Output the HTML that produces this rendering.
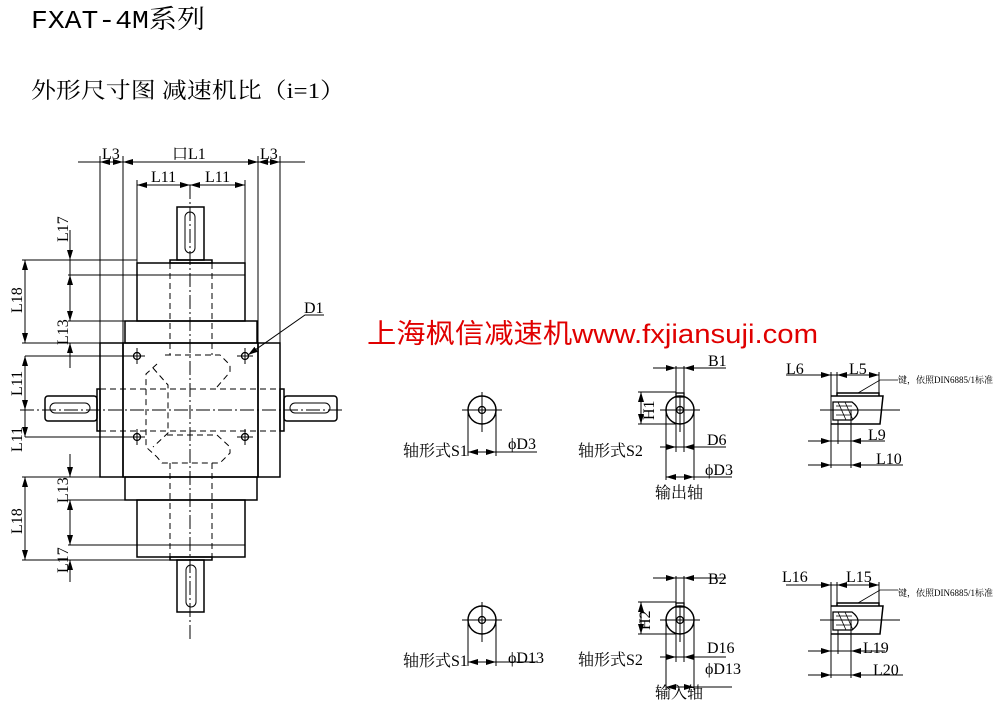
<!DOCTYPE html>
<html><head><meta charset="utf-8"><style>
html,body{margin:0;padding:0;background:#fff;}
svg{display:block}
text{font-family:"Liberation Serif","Noto Serif CJK SC",serif;fill:#000}
.m{font-family:"Liberation Mono","Noto Serif CJK SC",monospace}
</style></head><body>
<svg width="995" height="708" viewBox="0 0 995 708" xmlns="http://www.w3.org/2000/svg">
<defs>
<marker id="a" markerWidth="10" markerHeight="6" refX="10" refY="3" orient="auto-start-reverse" markerUnits="userSpaceOnUse"><path d="M0,0 L10,3 L0,6z" fill="#000"/></marker>
</defs>
<text x="31" y="28" class="m" font-size="26" textLength="174" lengthAdjust="spacingAndGlyphs">FXAT-4M系列</text>
<text x="31" y="98" font-size="22" font-family="Noto Serif CJK SC,serif" textLength="314" lengthAdjust="spacingAndGlyphs">外形尺寸图 减速机比（i=1）</text>
<text x="367" y="343" font-size="27" style="fill:#e00000;font-family:'Noto Sans CJK SC',sans-serif" textLength="451" lengthAdjust="spacingAndGlyphs">上海枫信减速机<tspan style="font-family:'Liberation Sans',sans-serif">www.fxjiansuji.com</tspan></text>

<g stroke="#000" fill="none" stroke-width="1">
<line x1="78" y1="162" x2="305" y2="162"/>
<line x1="100" y1="162" x2="123" y2="162" marker-start="url(#a)" marker-end="url(#a)"/>
<line x1="123" y1="162" x2="258" y2="162" marker-start="url(#a)" marker-end="url(#a)"/>
<line x1="258" y1="162" x2="280" y2="162" marker-start="url(#a)" marker-end="url(#a)"/>
<line x1="100" y1="156" x2="100" y2="343"/><line x1="123" y1="156" x2="123" y2="343"/>
<line x1="258" y1="156" x2="258" y2="343"/><line x1="280" y1="156" x2="280" y2="343"/>
<line x1="137" y1="185" x2="190" y2="185" marker-start="url(#a)" marker-end="url(#a)"/>
<line x1="190" y1="185" x2="245" y2="185" marker-start="url(#a)" marker-end="url(#a)"/>
<line x1="137" y1="180" x2="137" y2="263"/><line x1="245" y1="180" x2="245" y2="263"/>
<line x1="190" y1="185" x2="190" y2="640" stroke-dasharray="14,3,2,3"/>
<rect x="177" y="207" width="27" height="53" stroke-width="1.5"/>
<rect x="185" y="212" width="10" height="41" rx="5"/>
<rect x="170" y="260" width="42" height="3" stroke-width="1.5"/>
<rect x="137" y="263" width="108" height="58" stroke-width="1.5"/>
<line x1="137" y1="275" x2="245" y2="275"/>
<rect x="125" y="321" width="132" height="22" stroke-width="1.5"/>
<rect x="100" y="343" width="23" height="134" stroke-width="1.5"/>
<rect x="258" y="343" width="22" height="134" stroke-width="1.5"/>
<rect x="123" y="343" width="135" height="134" stroke-width="1.5"/>
<rect x="97" y="389" width="3" height="42" stroke-width="1.5"/>
<rect x="280" y="389" width="4" height="42" stroke-width="1.5"/>
<rect x="45" y="396" width="52" height="25" rx="3" stroke-width="1.5"/>
<rect x="50" y="403" width="40" height="10" rx="5"/>
<rect x="284" y="396" width="53" height="25" rx="3" stroke-width="1.5"/>
<rect x="290" y="403" width="40" height="10" rx="5"/>
<line x1="20" y1="410" x2="345" y2="410" stroke-dasharray="14,3,2,3"/>
<g stroke-dasharray="6,4">
<line x1="100" y1="389" x2="280" y2="389"/><line x1="100" y1="431" x2="280" y2="431"/>
<line x1="170" y1="263" x2="170" y2="355"/><line x1="212" y1="263" x2="212" y2="355"/>
<line x1="170" y1="463" x2="170" y2="557"/><line x1="212" y1="463" x2="212" y2="557"/>
<path d="M165,355 L220,355 L230,365 L230,372 L217,387"/>
<path d="M157,364 L146,374 L146,447 L157,457"/>
<path d="M153,368 L168,385 L168,433 L153,447"/>
<path d="M167,435 L217,435 L230,447 L230,453 L220,463 L162,463 L157,457"/>
</g>
<g stroke-width="1.3">
<circle cx="137" cy="356" r="3.5"/><circle cx="245" cy="356" r="3.5"/>
<circle cx="137" cy="437" r="3.5"/><circle cx="245" cy="437" r="3.5"/>
</g>
<line x1="129" y1="356" x2="145" y2="356"/><line x1="237" y1="356" x2="253" y2="356"/>
<line x1="129" y1="437" x2="145" y2="437"/><line x1="237" y1="437" x2="253" y2="437"/>
<line x1="137" y1="348" x2="137" y2="364"/><line x1="245" y1="348" x2="245" y2="364"/>
<line x1="137" y1="429" x2="137" y2="445"/><line x1="245" y1="429" x2="245" y2="445"/>
<path d="M324,315 L305,315 L248,355" marker-end="url(#a)"/>
<rect x="125" y="477" width="132" height="23" stroke-width="1.5"/>
<rect x="137" y="500" width="108" height="57" stroke-width="1.5"/>
<line x1="137" y1="545" x2="245" y2="545"/>
<rect x="170" y="557" width="42" height="3" stroke-width="1.5"/>
<rect x="177" y="560" width="27" height="52" stroke-width="1.5"/>
<rect x="186" y="565" width="10" height="42" rx="5"/>
<line x1="22" y1="260" x2="137" y2="260"/>
<line x1="22" y1="343" x2="125" y2="343"/>
<line x1="68" y1="275" x2="137" y2="275"/>
<line x1="68" y1="321" x2="125" y2="321"/>
<line x1="25" y1="356" x2="130" y2="356"/>
<line x1="25" y1="437" x2="130" y2="437"/>
<line x1="22" y1="477" x2="125" y2="477"/>
<line x1="68" y1="500" x2="137" y2="500"/>
<line x1="68" y1="545" x2="137" y2="545"/>
<line x1="22" y1="560" x2="170" y2="560"/>
<line x1="25" y1="260" x2="25" y2="343" marker-start="url(#a)" marker-end="url(#a)"/>
<line x1="70" y1="230" x2="70" y2="260" marker-end="url(#a)"/>
<line x1="70" y1="260" x2="70" y2="275"/>
<line x1="70" y1="275" x2="70" y2="321" marker-start="url(#a)" marker-end="url(#a)"/>
<line x1="70" y1="343" x2="70" y2="368" marker-start="url(#a)"/>
<line x1="25" y1="356" x2="25" y2="410" marker-start="url(#a)" marker-end="url(#a)"/>
<line x1="25" y1="410" x2="25" y2="437" marker-end="url(#a)"/>
<line x1="70" y1="454" x2="70" y2="477" marker-end="url(#a)"/>
<line x1="70" y1="500" x2="70" y2="545" marker-start="url(#a)" marker-end="url(#a)"/>
<line x1="25" y1="477" x2="25" y2="560" marker-start="url(#a)" marker-end="url(#a)"/>
<line x1="70" y1="560" x2="70" y2="582" marker-start="url(#a)"/>
</g>
<g font-size="16">
<text x="102" y="159">L3</text><text x="172" y="159">口L1</text><text x="260" y="159">L3</text>
<text x="151" y="182">L11</text><text x="205" y="182">L11</text>
<text x="304" y="313">D1</text>
<text transform="translate(68,242) rotate(-90)">L17</text>
<text transform="translate(22,313) rotate(-90)">L18</text>
<text transform="translate(68,345) rotate(-90)">L13</text>
<text transform="translate(22,396) rotate(-90)">L11</text>
<text transform="translate(22,452) rotate(-90)">L11</text>
<text transform="translate(68,503) rotate(-90)">L13</text>
<text transform="translate(22,534) rotate(-90)">L18</text>
<text transform="translate(68,573) rotate(-90)">L17</text>
</g>

<g id="set1">
<g stroke="#000" fill="none" stroke-width="1">
<circle cx="482" cy="410" r="14" stroke-width="1.5"/><circle cx="482" cy="410" r="3.5" stroke-width="1.3"/>
<line x1="462" y1="410" x2="502" y2="410"/><line x1="482" y1="392" x2="482" y2="432"/>
<line x1="468" y1="410" x2="468" y2="456"/><line x1="496" y1="410" x2="496" y2="456"/>
<line x1="468" y1="452" x2="496" y2="452" marker-start="url(#a)" marker-end="url(#a)"/>
<line x1="496" y1="452" x2="537" y2="452"/>
<circle cx="680" cy="410" r="14" stroke-width="1.5"/><circle cx="680" cy="410" r="3.5" stroke-width="1.3"/>
<rect x="676" y="393" width="8" height="4" stroke-width="1.3"/>
<line x1="660" y1="410" x2="700" y2="410"/><line x1="680" y1="396" x2="680" y2="432"/>
<line x1="676" y1="366" x2="676" y2="452"/><line x1="684" y1="366" x2="684" y2="452"/>
<line x1="653" y1="368" x2="726" y2="368"/>
<line x1="662" y1="368" x2="676" y2="368" marker-end="url(#a)"/><line x1="698" y1="368" x2="684" y2="368" marker-end="url(#a)"/>
<line x1="638" y1="392" x2="676" y2="392"/><line x1="638" y1="424" x2="676" y2="424"/>
<line x1="641" y1="392" x2="641" y2="424" marker-start="url(#a)" marker-end="url(#a)"/>
<line x1="666" y1="410" x2="666" y2="480"/><line x1="694" y1="410" x2="694" y2="480"/>
<line x1="660" y1="447" x2="726" y2="447"/>
<line x1="662" y1="447" x2="676" y2="447" marker-end="url(#a)"/><line x1="698" y1="447" x2="684" y2="447" marker-end="url(#a)"/>
<line x1="666" y1="477" x2="694" y2="477" marker-start="url(#a)" marker-end="url(#a)"/>
<line x1="694" y1="477" x2="732" y2="477"/>
<path d="M837,396 L837,393 L879,393 L879,396" stroke-width="1.5"/>
<path d="M831,396 L883,396 L880,424 L831,424" stroke-width="1.5"/>
<path d="M833,402 L852,402 Q864,411 852,420 L833,420 Z" stroke-width="1.3"/>
<path d="M836,406 L852,406 M836,415 L852,415 M838,402 L846,420 M845,402 L853,420" stroke-width="0.8"/>
<line x1="820" y1="410" x2="900" y2="410"/>
<line x1="831" y1="372" x2="831" y2="468"/><line x1="837" y1="372" x2="837" y2="393"/>
<line x1="879" y1="372" x2="879" y2="393"/>
<line x1="786" y1="375" x2="879" y2="375"/>
<line x1="815" y1="375" x2="831" y2="375" marker-end="url(#a)"/>
<line x1="837" y1="375" x2="879" y2="375" marker-start="url(#a)" marker-end="url(#a)"/>
<path d="M898,380 L880,380 L858,393" stroke-width="0.8"/>
<line x1="838" y1="420" x2="838" y2="444"/><line x1="851" y1="410" x2="851" y2="468"/>
<line x1="808" y1="441" x2="885" y2="441"/>
<line x1="815" y1="441" x2="831" y2="441" marker-end="url(#a)"/><line x1="867" y1="441" x2="851" y2="441" marker-end="url(#a)"/>
<line x1="808" y1="465" x2="903" y2="465"/>
<line x1="815" y1="465" x2="831" y2="465" marker-end="url(#a)"/><line x1="867" y1="465" x2="851" y2="465" marker-end="url(#a)"/>
</g>
</g>
<use href="#set1" transform="translate(0,210)"/>
<g font-size="16">
<text x="403" y="456">轴形式S1</text><text x="508" y="449">ϕD3</text>
<text x="708" y="366">B1</text><text transform="translate(654,420) rotate(-90)">H1</text>
<text x="578" y="456">轴形式S2</text><text x="707" y="445">D6</text><text x="705" y="475">ϕD3</text>
<text x="655" y="498">输出轴</text>
<text x="786" y="374">L6</text><text x="849" y="374">L5</text>
<text x="868" y="440">L9</text><text x="876" y="464">L10</text>
<text x="403" y="666">轴形式S1</text><text x="508" y="663">ϕD13</text>
<text x="708" y="584">B2</text><text transform="translate(650,630) rotate(-90)">H2</text>
<text x="578" y="665">轴形式S2</text><text x="707" y="653">D16</text><text x="705" y="674">ϕD13</text>
<text x="655" y="698">输入轴</text>
<text x="782" y="582">L16</text><text x="846" y="582">L15</text>
<text x="863" y="653">L19</text><text x="873" y="675">L20</text>
</g>
<g font-size="9">
<text x="898" y="383">键，依照DIN6885/1标准</text>
<text x="898" y="596">键，依照DIN6885/1标准</text>
</g>
</svg>
</body></html>
